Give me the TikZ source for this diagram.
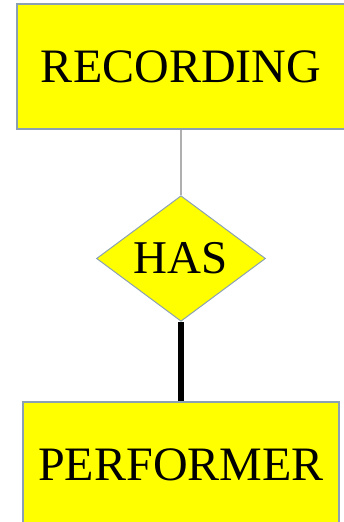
\documentclass[tikz,border=0pt]{standalone}
\usepackage{fontspec}
\setmainfont{Liberation Serif}
\usepackage{tikz}
\usetikzlibrary{shapes.geometric}
\definecolor{boxline}{RGB}{140,160,180}
\definecolor{thinline}{RGB}{175,175,175}
\definecolor{fillyellow}{RGB}{255,255,0}

\begin{document}
\begin{tikzpicture}[
		x=1pt, y=-1pt,
		entity/.style={rectangle,draw=boxline,fill=fillyellow,line width=1.2pt,inner sep=0pt,
			minimum width=328pt,minimum height=125pt,font=\fontsize{48}{52}\selectfont},
		relation/.style={diamond,draw=boxline,fill=fillyellow,line width=1pt,inner sep=0pt,
			minimum width=169pt,minimum height=125pt,font=\fontsize{47}{51}\selectfont},
		partial/.style={draw=thinline,line width=2pt},
		total/.style={draw=black,line width=6pt}
		]
		
		% Page size of the reference
		\useasboundingbox (0,0) rectangle (343,522);
		
		% Entities and relationship
		\node[entity] (recording) at (181,66.5) {RECORDING};
		\node[relation] (has) at (181,258.5) {HAS};
		\node[entity,minimum width=316pt] (performer) at (181,464.5) {PERFORMER};
		
		% Participation
		\draw[partial] (recording) -- (has);
		\draw[total]   (has) -- (performer);
		
	\end{tikzpicture}
\end{document}
